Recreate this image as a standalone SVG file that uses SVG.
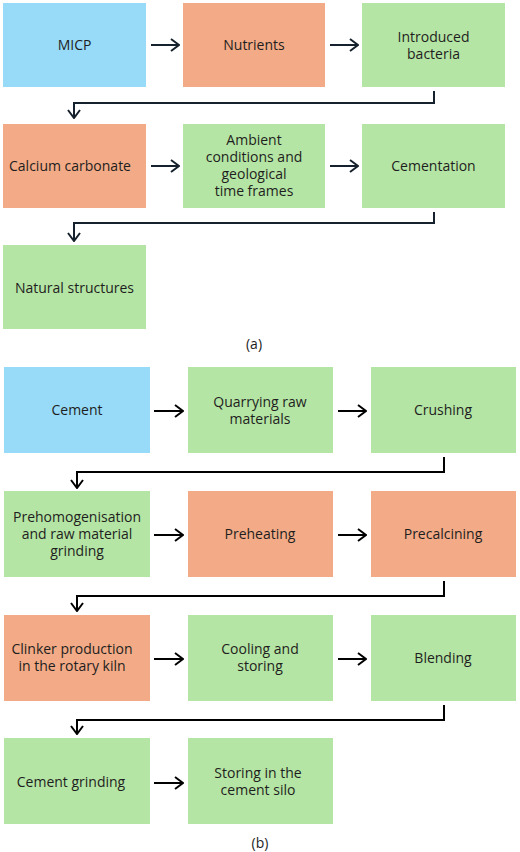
<svg xmlns="http://www.w3.org/2000/svg" width="520" height="852" viewBox="0 0 520 852">
<style>
.b{fill:#97dbf8}.o{fill:#f2ab86}.g{fill:#b5e5a4}
text{font-family:"Open Sans","Noto Sans",sans-serif;font-size:14px;fill:#1e1e1e;text-anchor:middle}
.ca{fill:none;stroke:#15212c;stroke-width:2}
.cb{fill:none;stroke:#000;stroke-width:2}
</style>
<defs>
<marker id="ha" viewBox="0 0 10 14" refX="9" refY="7" markerWidth="10" markerHeight="14" markerUnits="userSpaceOnUse" orient="auto"><path d="M1,1 L9,7 L1,13" fill="none" stroke="#15212c" stroke-width="2"/></marker>
<marker id="hb" viewBox="0 0 10 14" refX="9" refY="7" markerWidth="10" markerHeight="14" markerUnits="userSpaceOnUse" orient="auto"><path d="M1,1 L9,7 L1,13" fill="none" stroke="#000" stroke-width="2"/></marker>
</defs>
<g id="a1"><rect class="b" x="3" y="3" width="143" height="84"/><text x="74.5" y="50">MICP</text></g>
<g id="a2"><rect class="o" x="183" y="3" width="142" height="84"/><text x="254" y="50">Nutrients</text></g>
<g id="a3"><rect class="g" x="362" y="3" width="143" height="84"/><text x="433.5" y="42">Introduced</text><text x="433.5" y="59">bacteria</text></g>
<g id="a4"><rect class="o" x="3" y="124" width="143" height="84"/><text x="70" y="171">Calcium carbonate</text></g>
<g id="a5"><rect class="g" x="183" y="124" width="142" height="84"/><text x="254" y="145">Ambient</text><text x="254" y="162">conditions and</text><text x="254" y="179">geological</text><text x="254" y="196">time frames</text></g>
<g id="a6"><rect class="g" x="362" y="124" width="143" height="84"/><text x="433.5" y="171">Cementation</text></g>
<g id="a7"><rect class="g" x="3" y="245" width="143" height="84"/><text x="74.5" y="293">Natural structures</text></g>
<text x="254" y="349">(a)</text>
<g id="b1"><rect class="b" x="4" y="367" width="146" height="86"/><text x="77" y="415">Cement</text></g>
<g id="b2"><rect class="g" x="188" y="367" width="145" height="86"/><text x="260" y="407">Quarrying raw</text><text x="260" y="424">materials</text></g>
<g id="b3"><rect class="g" x="371" y="367" width="145" height="86"/><text x="443" y="415">Crushing</text></g>
<g id="b4"><rect class="g" x="4" y="491" width="146" height="86"/><text x="77" y="522">Prehomogenisation</text><text x="77" y="539">and raw material</text><text x="77" y="556">grinding</text></g>
<g id="b5"><rect class="o" x="188" y="491" width="145" height="86"/><text x="260" y="539">Preheating</text></g>
<g id="b6"><rect class="o" x="371" y="491" width="145" height="86"/><text x="443" y="539">Precalcining</text></g>
<g id="b7"><rect class="o" x="4" y="615" width="146" height="86"/><text x="72" y="654">Clinker production</text><text x="72" y="671">in the rotary kiln</text></g>
<g id="b8"><rect class="g" x="188" y="615" width="145" height="86"/><text x="260" y="654">Cooling and</text><text x="260" y="671">storing</text></g>
<g id="b9"><rect class="g" x="371" y="615" width="145" height="86"/><text x="443" y="663">Blending</text></g>
<g id="b10"><rect class="g" x="4" y="738" width="146" height="86"/><text x="71" y="787">Cement grinding</text></g>
<g id="b11"><rect class="g" x="188" y="738" width="145" height="86"/><text x="258" y="778">Storing in the</text><text x="258" y="795">cement silo</text></g>
<text x="260" y="848">(b)</text>
<g id="connectors">
<path class="ca" d="M151,45 H179" marker-end="url(#ha)"/>
<path class="ca" d="M330,45 H358" marker-end="url(#ha)"/>
<path class="ca" d="M434,91 V103 H74 V118" marker-end="url(#ha)"/>
<path class="ca" d="M151,166 H179" marker-end="url(#ha)"/>
<path class="ca" d="M330,166 H358" marker-end="url(#ha)"/>
<path class="ca" d="M434,212 V223 H74 V241" marker-end="url(#ha)"/>
<path class="cb" d="M154,411 H183" marker-end="url(#hb)"/>
<path class="cb" d="M338,411 H366" marker-end="url(#hb)"/>
<path class="cb" d="M444,457 V472 H77 V488" marker-end="url(#hb)"/>
<path class="cb" d="M154,535 H183" marker-end="url(#hb)"/>
<path class="cb" d="M338,535 H366" marker-end="url(#hb)"/>
<path class="cb" d="M444,581 V596 H77 V611" marker-end="url(#hb)"/>
<path class="cb" d="M154,659 H183" marker-end="url(#hb)"/>
<path class="cb" d="M338,659 H366" marker-end="url(#hb)"/>
<path class="cb" d="M444,705 V720 H77 V734" marker-end="url(#hb)"/>
<path class="cb" d="M154,783 H183" marker-end="url(#hb)"/>
</g>
</svg>
